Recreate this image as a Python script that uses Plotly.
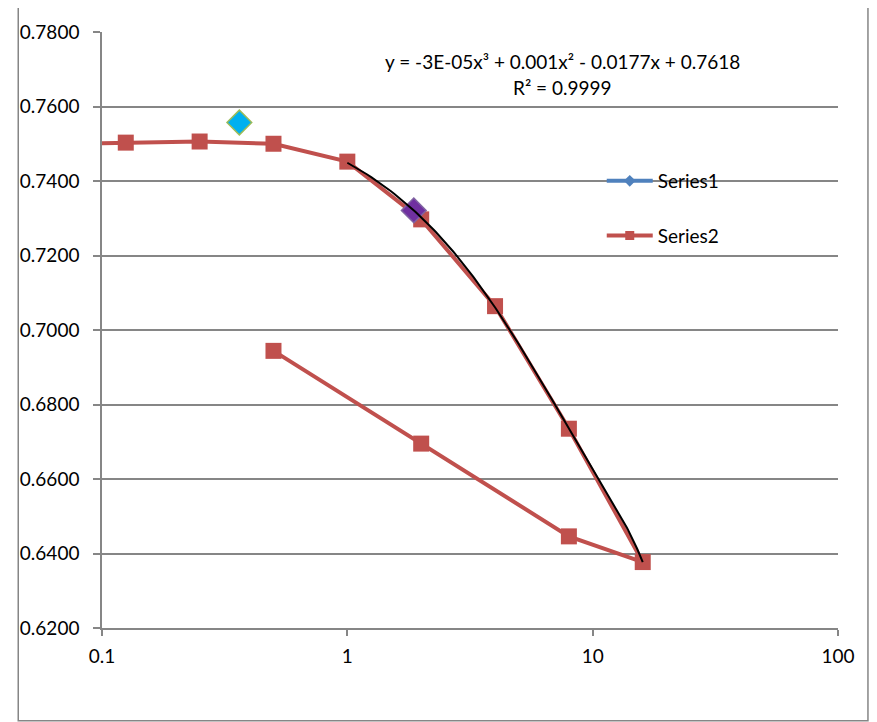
import numpy as np
import plotly.graph_objects as go

# ---- data ----
s2_x = [0.0625, 0.125, 0.25, 0.5, 1, 2, 4, 8, 16, 8, 2, 0.5]
s2_y = [0.7499, 0.7503, 0.7506, 0.7500, 0.7452, 0.7297, 0.7064, 0.6735, 0.6377, 0.6446, 0.6695, 0.6944]
s1_x = [0.363, 1.866]
s1_y = [0.7557, 0.7321]
s1_fill = ["#00B0F0", "#7030A0"]
s1_edge = ["#9BBB59", "#8064A2"]
fit_x = [1, 2, 4, 8, 16]
fit_y = [0.7452, 0.7297, 0.7064, 0.6735, 0.6377]
y_ticks = [0.62, 0.64, 0.66, 0.68, 0.70, 0.72, 0.74, 0.76, 0.78]
x_ticks = [0.1, 1, 10, 100]
x_labels = ["0.1", "1", "10", "100"]
eq_text = "y = -3E-05x³ + 0.001x² - 0.0177x + 0.7618"
r2_text = "R² = 0.9999"

RED = "#C0504D"
BLUE = "#4F81BD"
GREY = "#868686"
FONT = "Lato"

coef = np.polyfit(fit_x, fit_y, 3)
tx = np.linspace(min(fit_x), max(fit_x), 300)
ty = np.polyval(coef, tx)

fig = go.Figure()
fig.add_trace(go.Scatter(x=s2_x, y=s2_y, mode="lines+markers", showlegend=False,
                         line=dict(color=RED, width=4),
                         marker=dict(symbol="square", size=16, color=RED)))
fig.add_trace(go.Scatter(x=s1_x, y=s1_y, mode="markers", showlegend=False,
                         marker=dict(symbol="diamond", size=19, color=s1_fill,
                                     line=dict(color=s1_edge, width=1.5))))
fig.add_trace(go.Scatter(x=tx, y=ty, mode="lines", showlegend=False,
                         line=dict(color="black", width=2)))
# legend entries
fig.add_trace(go.Scatter(x=[None], y=[None], mode="lines+markers", name="Series1",
                         legendgroup="a",
                         line=dict(color=BLUE, width=4),
                         marker=dict(symbol="diamond", size=9, color=BLUE)))
fig.add_trace(go.Scatter(x=[None], y=[None], mode="lines+markers", name="Series2",
                         legendgroup="b",
                         line=dict(color=RED, width=4),
                         marker=dict(symbol="square", size=9, color=RED)))

fig.add_annotation(x=0.626, y=0.9498, xref="paper", yref="paper", text=eq_text,
                   xanchor="center", yanchor="middle",
                   showarrow=False, font=dict(family=FONT, size=19, color="black"))
fig.add_annotation(x=0.626, y=0.9065, xref="paper", yref="paper", text=r2_text,
                   xanchor="center", yanchor="middle",
                   showarrow=False, font=dict(family=FONT, size=19, color="black"))

fig.add_shape(type="rect", xref="paper", yref="paper",
              x0=-0.1138, x1=1.0407, y0=-0.1555, y1=1.0418,
              line=dict(color=GREY, width=1.5), fillcolor="rgba(0,0,0,0)")

fig.update_layout(
    width=869, height=714,
    margin=dict(l=92, r=39, t=22, b=94),
    paper_bgcolor="white", plot_bgcolor="white",
    font=dict(family=FONT, size=19, color="black"),
    legend=dict(x=0.679, y=0.782, xanchor="left", yanchor="top",
                tracegroupgap=27, itemwidth=46,
                bgcolor="rgba(0,0,0,0)", font=dict(family=FONT, size=19)),
    xaxis=dict(type="log", range=[-1, 2], tickvals=x_ticks, ticktext=x_labels,
               showgrid=False, showline=True, linecolor=GREY, linewidth=1.5,
               ticks="outside", ticklen=6, tickcolor=GREY, tickwidth=1.5,
               zeroline=False, ticklabelstandoff=4),
    yaxis=dict(range=[0.62, 0.78], tickvals=y_ticks, tickformat=".4f",
               showgrid=True, gridcolor=GREY, gridwidth=1.5,
               showline=True, linecolor=GREY, linewidth=1.5,
               ticks="outside", ticklen=7, tickcolor=GREY, tickwidth=1.5,
               zeroline=False, ticklabelstandoff=10),
)

fig.write_html("out.html")
